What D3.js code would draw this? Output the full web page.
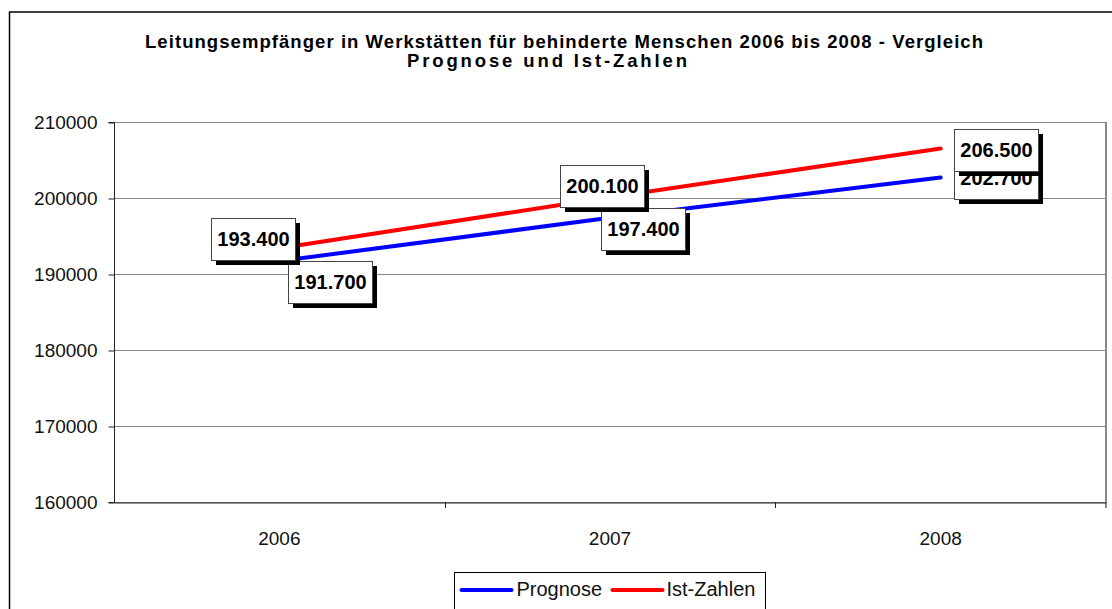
<!DOCTYPE html>
<html>
<head>
<meta charset="utf-8">
<script src="https://cdn.jsdelivr.net/npm/d3@7"></script>
<style>
    body { margin: 0; background: #fff; }
    svg { display: block; font-family: "Liberation Sans", Arial, sans-serif; }
</style>
</head>
<body>
<div id="chart"></div>
<script>
// chart values
var categories = ["2006", "2007", "2008"];
var prognose = [191700, 197400, 202700];
var istZahlen = [193400, 200100, 206500];
var yTicks = [160000, 170000, 180000, 190000, 200000, 210000];
var seriesNames = ["Prognose", "Ist-Zahlen"];
var seriesColors = ["#0000ff", "#ff0000"];
var titleLines = [
    "Leitungsempfänger in Werkstätten für behinderte Menschen 2006 bis 2008 - Vergleich",
    "Prognose und Ist-Zahlen"
];

// where excel put the label boxes, relative to the point (box centre)
var labelShift = [
    [[51, 21], [33, 11], [55, 1]],
    [[-26, -9], [-8, -11], [55, 1.5]]
];

lineChart();

function lineChart() {

    var width = 1112, height = 609;
    var plot = {left: 114, right: 1106, top: 122, bottom: 502};

    var svg = d3.select("#chart").append("svg")
        .attr("width", width)
        .attr("height", height);

    // outer chart frame
    svg.append("rect")
        .attr("x", 9.5).attr("y", 12)
        .attr("width", 1130).attr("height", 640)
        .attr("fill", "none")
        .attr("stroke", "#000")
        .attr("stroke-width", 1.5);

    // title, two lines
    svg.append("text")
        .attr("x", 145).attr("y", 48)
        .attr("textLength", 838)
        .attr("lengthAdjust", "spacing")
        .style("font-weight", "bold")
        .style("font-size", "18.5px")
        .text(titleLines[0]);
    svg.append("text")
        .attr("x", 407).attr("y", 67)
        .attr("textLength", 280)
        .attr("lengthAdjust", "spacing")
        .style("font-weight", "bold")
        .style("font-size", "18.5px")
        .text(titleLines[1]);

    var x = d3.scaleBand()
        .domain(categories)
        .range([plot.left, plot.right])
        .padding(0);
    var y = d3.scaleLinear()
        .domain([160000, 210000])
        .range([plot.bottom, plot.top]);

    function cx(d) {
        return x(d) + x.bandwidth() / 2;
    }

    // gridlines
    svg.append("g")
        .selectAll("line")
        .data(yTicks)
        .enter().append("line")
        .attr("x1", plot.left).attr("x2", plot.right)
        .attr("y1", function (d) { return Math.round(y(d)) + 0.5; })
        .attr("y2", function (d) { return Math.round(y(d)) + 0.5; })
        .attr("stroke", "#868686")
        .attr("stroke-width", 1);

    // right plot border
    svg.append("line")
        .attr("x1", plot.right).attr("x2", plot.right)
        .attr("y1", plot.top).attr("y2", plot.bottom + 6)
        .attr("stroke", "#8a8a8a")
        .attr("stroke-width", 2);

    // y axis
    var yAxis = svg.append("g")
        .attr("transform", "translate(" + (plot.left + 0.5) + ",0.5)")
        .call(d3.axisLeft(y)
            .tickValues(yTicks)
            .tickSize(6)
            .tickPadding(11)
            .tickFormat(d3.format("d")));
    yAxis.select(".domain").attr("stroke", "#222").attr("d", "M-6," + plot.top + "H0V" + plot.bottom + "H-6");
    yAxis.selectAll(".tick line").attr("stroke", "#222");
    yAxis.selectAll("text")
        .style("font-size", "19px")
        .style("font-family", "'Liberation Sans', Arial, sans-serif")
        .attr("fill", "#111");

    // x axis: labels centred, ticks on band edges
    var xAxis = svg.append("g")
        .attr("transform", "translate(0," + (plot.bottom + 0.5) + ")")
        .call(d3.axisBottom(x).tickSize(0).tickPadding(29));
    xAxis.select(".domain").attr("stroke", "#222");
    xAxis.selectAll("text")
        .style("font-size", "19px")
        .style("font-family", "'Liberation Sans', Arial, sans-serif")
        .attr("fill", "#111");
    svg.append("g")
        .selectAll("line")
        .data(categories.slice(0, 2))
        .enter().append("line")
        .attr("x1", function (d) { return Math.round(x(d) + x.bandwidth()) + 0.5; })
        .attr("x2", function (d) { return Math.round(x(d) + x.bandwidth()) + 0.5; })
        .attr("y1", plot.bottom).attr("y2", plot.bottom + 6)
        .attr("stroke", "#222");

    var series = [prognose, istZahlen];

    var line = d3.line()
        .x(function (d, i) { return cx(categories[i]); })
        .y(function (d) { return y(d); });

    svg.append("g")
        .selectAll("path")
        .data(series)
        .enter().append("path")
        .attr("d", line)
        .attr("fill", "none")
        .attr("stroke", function (d, i) { return seriesColors[i]; })
        .attr("stroke-width", 4)
        .attr("stroke-linecap", "round");

    // data labels, Prognose first so Ist-Zahlen sits on top
    var fmt = function (v) {
        return d3.format(",")(v).replace(/,/g, ".");
    };
    var bw = 84, bh = 42;
    series.forEach(function (vals, s) {
        var g = svg.append("g").selectAll("g")
            .data(vals)
            .enter().append("g")
            .attr("transform", function (d, i) {
                var px = cx(categories[i]) + labelShift[s][i][0];
                var py = y(d) + labelShift[s][i][1];
                return "translate(" + Math.round(px - bw / 2) + "," + Math.round(py - bh / 2) + ")";
            });
        g.append("rect")
            .attr("x", 5).attr("y", 5)
            .attr("width", bw).attr("height", bh)
            .attr("fill", "#000");
        g.append("rect")
            .attr("x", 0.5).attr("y", 0.5)
            .attr("width", bw).attr("height", bh)
            .attr("fill", "#fff")
            .attr("stroke", "#444")
            .attr("stroke-width", 1);
        g.append("text")
            .attr("x", bw / 2 + 0.5).attr("y", bh / 2 - 0.5)
            .attr("dy", "0.35em")
            .attr("text-anchor", "middle")
            .style("font-weight", "bold")
            .style("font-size", "20px")
            .text(function (d) { return fmt(d); });
    });

    // legend
    var leg = svg.append("g").attr("transform", "translate(454.5,572.5)");
    leg.append("rect")
        .attr("width", 311).attr("height", 60)
        .attr("fill", "#fff")
        .attr("stroke", "#000")
        .attr("stroke-width", 1);
    var legX = [[7, 57, 62], [158, 208, 212]];
    seriesNames.forEach(function (name, i) {
        leg.append("line")
            .attr("x1", legX[i][0]).attr("x2", legX[i][1])
            .attr("y1", 17.5).attr("y2", 17.5)
            .attr("stroke", seriesColors[i])
            .attr("stroke-width", 4)
            .attr("stroke-linecap", "round");
        leg.append("text")
            .attr("x", legX[i][2]).attr("y", 23.5)
            .style("font-size", "20px")
            .attr("fill", "#111")
            .text(name);
    });
}
</script>
</body>
</html>
